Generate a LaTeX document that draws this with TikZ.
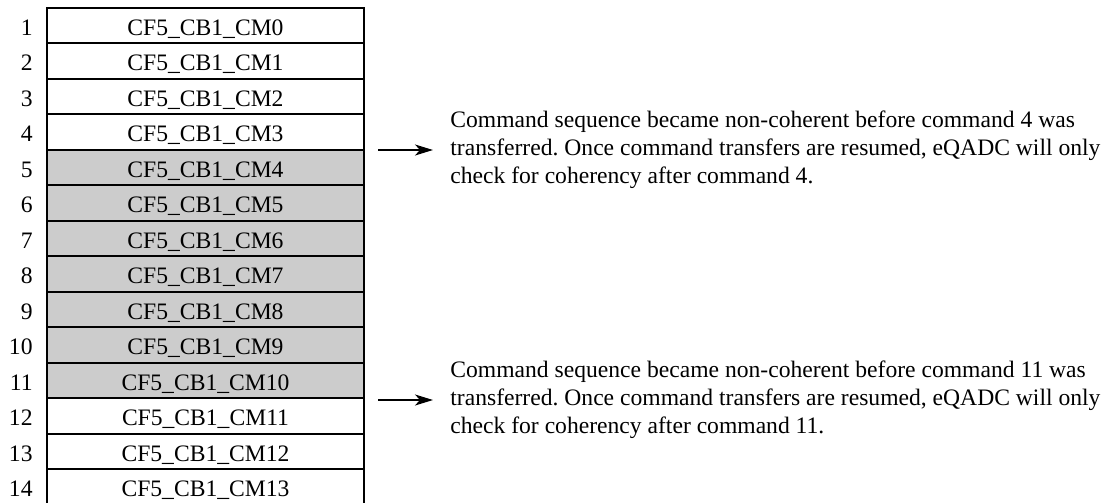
\documentclass[tikz,border=0pt]{standalone}
\usepackage{fontspec}
\setmainfont{Liberation Serif}
\usetikzlibrary{arrows.meta,positioning}
\frenchspacing

\tikzset{
  cmdbox/.style={draw, line width=1pt, minimum width=158.5pt, minimum height=17.75pt,
    inner sep=0pt, text height=9.8pt, text depth=0pt, font=\fontsize{11.8}{13}\selectfont},
  cmdgray/.style={cmdbox, fill=black!20},
  rownum/.style={anchor=east, inner sep=0pt, text height=9.8pt, text depth=0pt,
    font=\fontsize{11.8}{13}\selectfont},
  note/.style={anchor=west, inner sep=0pt, align=left, font=\fontsize{11.8}{14}\selectfont},
  arr/.style={-{Stealth[length=9pt,width=5.5pt,inset=2.5pt]}, line width=0.85pt, shorten >=8.5pt},
}

\begin{document}
\begin{tikzpicture}[x=0.5pt, y=-0.5pt]
    \clip (0,0) rectangle (1114,503);
    % command rows
    \foreach \i in {1,...,14} {
        \pgfmathtruncatemacro\cm{\i-1}
        \pgfmathsetmacro\yy{7.5+(\i-0.5)*35.5}
        \ifnum\i>4 \ifnum\i<12
            \node[cmdgray] (r\i) at (205.5,\yy) {CF5\_CB1\_CM\cm};
        \else
            \node[cmdbox] (r\i) at (205.5,\yy) {CF5\_CB1\_CM\cm};
        \fi \else
            \node[cmdbox] (r\i) at (205.5,\yy) {CF5\_CB1\_CM\cm};
        \fi
        \node[rownum] (n\i) at (33,\yy) {\i};
    }
    % notes
    \node[note] (noteA) at (450,150) {Command sequence became non-coherent before command 4 was\\
        transferred. Once command transfers are resumed, eQADC will only\\
        check for coherency after command 4.};
    \node[note] (noteB) at (450,400) {Command sequence became non-coherent before command 11 was\\
        transferred. Once command transfers are resumed, eQADC will only\\
        check for coherency after command 11.};
    \coordinate (tailA) at (378,150);
    \coordinate (tailB) at (378,400);
    \draw[arr] (tailA) -- (noteA.west);
    \draw[arr] (tailB) -- (noteB.west);
\end{tikzpicture}
\end{document}
